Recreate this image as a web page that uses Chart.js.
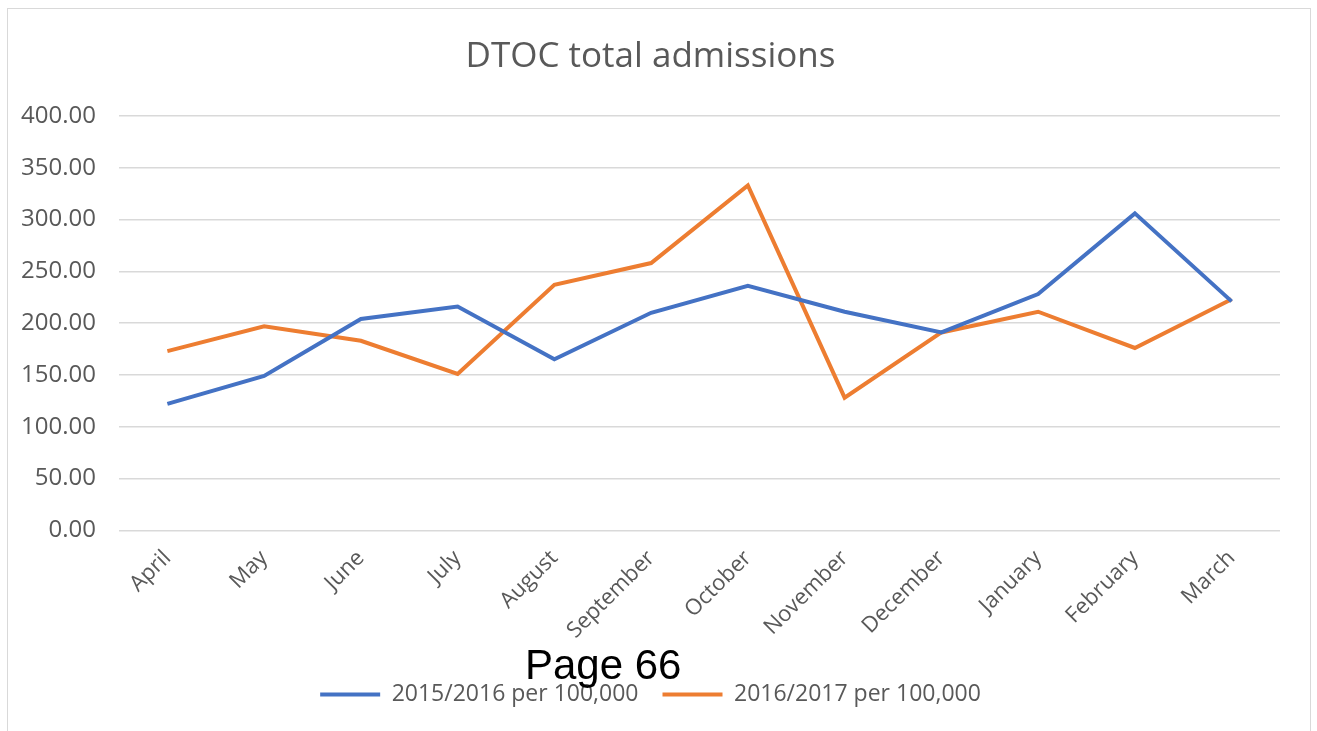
<!DOCTYPE html>
<html lang="en">
<head>
  <meta charset="UTF-8">
  <title>DTOC total admissions</title>
  <script src="https://cdn.jsdelivr.net/npm/chart.js"></script>
  <style>
    html, body { margin: 0; padding: 0; background: #fff; overflow: hidden; }
    .marco {
      position: absolute; left: 7px; top: 8px; width: 1304px; height: 740px;
      border: 1px solid #d9d9d9; box-sizing: border-box;
    }
    .pagina {
      position: absolute; left: 525px; top: 641px;
      font-family: "Liberation Sans", Arial, sans-serif; font-size: 42px; color: #000;
    }
  </style>
</head>
<body>
  <div class="marco">
    <canvas id="grafico"></canvas>
  </div>
  <div class="pagina">Page 66</div>

  <script>
    const meses = ['April', 'May', 'June', 'July', 'August', 'September', 'October', 'November', 'December', 'January', 'February', 'March'];
    const serie2015 = [122, 149, 204, 216, 165, 210, 236, 211, 191, 228, 306, 221];
    const serie2016 = [173, 197, 183, 151, 237, 258, 333, 128, 191, 211, 176, 223];
    const etiquetas = ['2015/2016 per 100,000', '2016/2017 per 100,000'];

    const gris = '#595959';
    const fuente = '"Open Sans", "Noto Sans", sans-serif';

    const ctx = document.getElementById('grafico').getContext('2d');
    new Chart(ctx, {
      type: 'line',
      data: {
        labels: meses,
        datasets: [{
          label: etiquetas[0],
          data: serie2015,
          borderColor: '#4472C4',
          backgroundColor: '#4472C4',
          borderWidth: 4,
          pointRadius: 0,
          tension: 0
        }, {
          label: etiquetas[1],
          data: serie2016,
          borderColor: '#ED7D31',
          backgroundColor: '#ED7D31',
          borderWidth: 4,
          pointRadius: 0,
          tension: 0
        }]
      },
      options: {
        responsive: true,
        maintainAspectRatio: false,
        animation: false,
        layout: { padding: { top: 20, left: 13, right: 30, bottom: 31 } },
        plugins: {
          title: {
            display: true,
            text: 'DTOC total admissions',
            color: gris,
            font: { family: fuente, size: 35, weight: 'normal' },
            padding: { top: 7, bottom: 38 }
          },
          legend: {
            position: 'bottom',
            labels: {
              color: gris,
              font: { family: fuente, size: 23 },
              usePointStyle: true,
              pointStyle: 'line',
              pointStyleWidth: 60,
              padding: 24
            }
          },
          tooltip: { enabled: false }
        },
        scales: {
          x: {
            offset: true,
            grid: { display: false, drawTicks: false },
            border: { display: false },
            ticks: {
              color: gris,
              font: { family: fuente, size: 22 },
              minRotation: 45,
              maxRotation: 45,
              padding: 15
            }
          },
          y: {
            min: 0,
            max: 400,
            grid: { color: '#d9d9d9', lineWidth: 1.5, drawTicks: false },
            border: { display: false },
            ticks: {
              stepSize: 50,
              color: gris,
              font: { family: fuente, size: 24 },
              padding: 23,
              callback: function(valor) { return valor.toFixed(2); }
            },
            // chart.js cuenta el padding dos veces en el ancho del eje
            afterFit: function(escala) { escala.width = 98; }
          }
        }
      }
    });
  </script>
</body>
</html>
